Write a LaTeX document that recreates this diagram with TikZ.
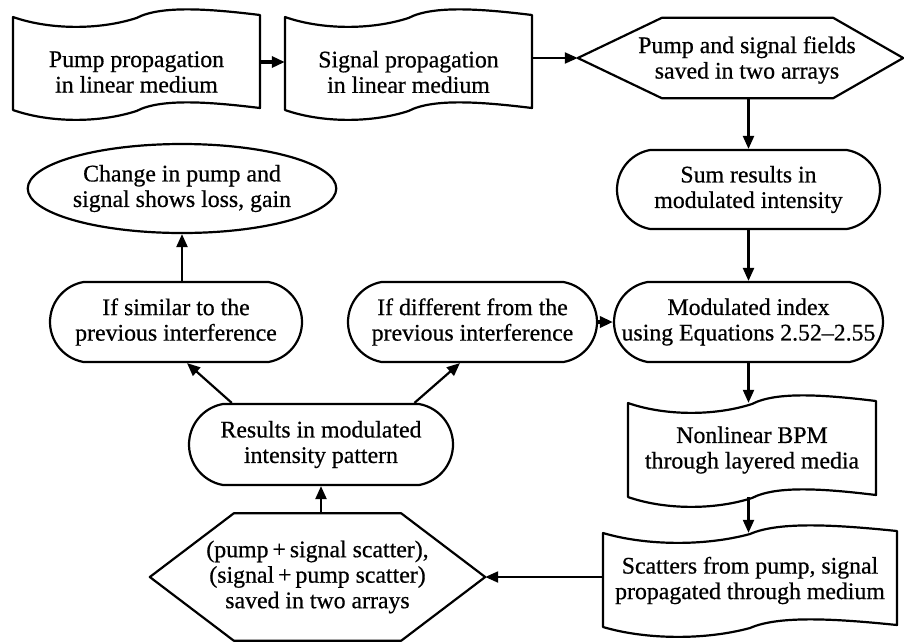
\documentclass[tikz,border=0pt]{standalone}
\usepackage{fontspec}
\setmainfont{Liberation Serif}[BoldFont=Liberation Serif,BoldFeatures={FakeBold=0.6}]
\usetikzlibrary{shapes.misc,shapes.geometric,arrows.meta,calc}
\newcommand{\wavedoc}[5]{%
  \pgfmathsetmacro\ww{#3-#2}%
  \node[anchorbox,minimum width=\ww pt,minimum height={(#5-#4)*1pt}] (#1) at ({(#2+#3)/2},{(#4+#5)/2}) {};
  \draw[shp] (#2,#4) .. controls ({#2+0.15*\ww},{#4+13}) and ({#2+0.35*\ww},{#4+13}) .. ({#2+0.5*\ww},{#4+1})
    .. controls ({#2+0.6*\ww},{#4-12}) and ({#2+0.8*\ww},{#4-8}) .. (#3,{#4-2})
    -- (#3,{#5-2})
    .. controls ({#2+0.8*\ww},{#5-8}) and ({#2+0.6*\ww},{#5-12}) .. ({#2+0.5*\ww},{#5+1})
    .. controls ({#2+0.35*\ww},{#5+13}) and ({#2+0.15*\ww},{#5+13}) .. (#2,#5) -- cycle;
}
\begin{document}
\begin{tikzpicture}[x=1pt,y=-1pt,
  shp/.style={draw=black,line width=2.2pt,line join=round},
  txt/.style={align=center,font=\fontsize{23.8}{25.5}\selectfont\bfseries,inner sep=0pt},
  anchorbox/.style={draw=none,rectangle,inner sep=0pt},
  stadium/.style={shp,txt,rounded rectangle,rounded rectangle arc length=160},
  oval/.style={shp,txt,ellipse},
  arr/.style={line width=2.2pt,-{Triangle[length=13pt,width=11pt]}},
  tharr/.style={arr,line width=3.2pt}
]
\useasboundingbox (0,0) rectangle (904,641);

% wave documents
\wavedoc{pump}{13}{260}{17}{110}
\node[txt] (pumpT) at (136.5,72) {Pump propagation\\in linear medium};
\wavedoc{signal}{285}{532}{17}{110}
\node[txt] (signalT) at (408.5,72) {Signal propagation\\in linear medium};
\wavedoc{nl}{628}{876}{403}{497}
\node[txt] (nlT) at (752,450) {Nonlinear BPM\\through layered media};
\wavedoc{sc}{603}{897}{533}{627}
\node[txt] (scT) at (750,580.5) {Scatters from pump, signal\\propagated through medium};

% hexagon top right
\node[anchorbox,minimum width=325pt,minimum height=80pt] (hexA) at (740.5,58) {};
\draw[shp] (hexA.west) -- ($(hexA.north west)+(84,0)$) -- ($(hexA.north east)+(-70,0)$) -- (hexA.east)
  -- ($(hexA.south east)+(-70,0)$) -- ($(hexA.south west)+(84,0)$) -- cycle;
\node[txt] (hexAT) at (747,60) {Pump and signal fields\\saved in two arrays};

% hexagon bottom left
\node[anchorbox,txt,minimum width=335pt,minimum height=127pt] (hexB) at (317.5,577) {(pump\,+\,signal scatter),\\(signal\,+\,pump scatter)\\saved in two arrays};
\draw[shp] (hexB.west) -- ($(hexB.north west)+(84,0)$) -- ($(hexB.north east)+(-84,0)$) -- (hexB.east)
  -- ($(hexB.south east)+(-84,0)$) -- ($(hexB.south west)+(84,0)$) -- cycle;

% stadiums
\node[stadium,minimum width=263pt,minimum height=79pt] (sum) at (748.5,189.5) {Sum results in\\modulated intensity};
\node[stadium,minimum width=263pt,minimum height=80pt] (mod) at (748.5,322) {Modulated index\\using Equations 2.52--2.55};
\node[stadium,minimum width=264pt,minimum height=81pt] (res) at (321,444.5) {Results in modulated\\intensity pattern};
\node[stadium,minimum width=252pt,minimum height=80pt] (sim) at (176,322) {If similar to the\\previous interference};
\node[stadium,minimum width=249pt,minimum height=80pt] (dif) at (472.5,322) {If different from the\\previous interference};

% ellipse
\node[oval,minimum width=306pt,minimum height=89pt] (chg) at (182,188.5) {Change in pump and\\signal shows loss, gain};

% connectors
\draw[tharr] (pump.east |- 0,62) -- (signal.west |- 0,62);
\draw[arr] (signal.east |- hexA.west) -- (hexA.west);
\draw[arr] (sum.north |- hexA.south) -- (sum.north);
\draw[arr] (sum.south) -- (mod.north);
\draw[arr] (mod.south) -- (mod.south |- nl.north);
\draw[arr] (mod.south |- nl.south) -- (mod.south |- sc.north);
\draw[arr] (sc.west |- hexB.east) -- (hexB.east);
\draw[arr] (res.south |- hexB.north) -- (res.south);
\draw[arr] (res.155) -- (sim.-75);
\draw[arr] (res.24) -- (dif.-107);
\draw[arr] (chg.south |- sim.north) -- (chg.south);
\draw[tharr] (dif.east) -- (mod.west);
\end{tikzpicture}
\end{document}
